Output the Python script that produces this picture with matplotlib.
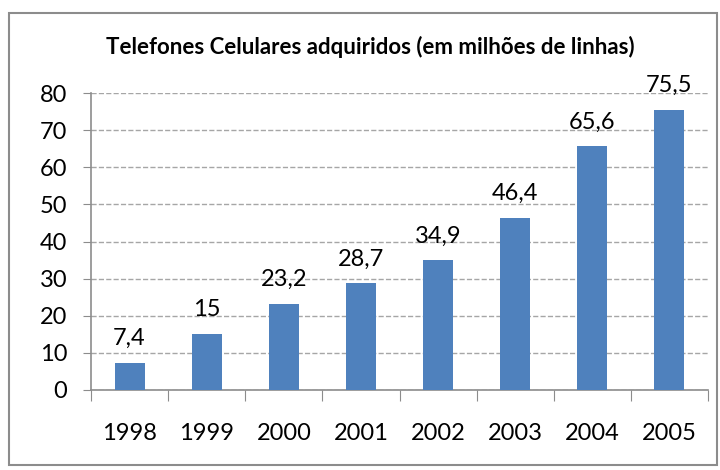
import numpy as np
import matplotlib.pyplot as plt
from matplotlib.patches import Rectangle

anos = ['1998', '1999', '2000', '2001', '2002', '2003', '2004', '2005']
linhas = [7.4, 15, 23.2, 28.7, 34.9, 46.4, 65.6, 75.5]
rotulos = ['7,4', '15', '23,2', '28,7', '34,9', '46,4', '65,6', '75,5']

plt.rcParams['font.family'] = ['Lato', 'DejaVu Sans']

fig = plt.figure(figsize=(7.2, 4.7), dpi=100)
fig.patches.append(Rectangle((9 / 720, 5 / 470), 708 / 720, 452 / 470, transform=fig.transFigure,
                             fill=False, edgecolor='#8c8c8c', linewidth=1.5))
ax = fig.add_axes([91 / 720, 1 - 390 / 470, 617 / 720, 297 / 470])

x = np.arange(len(anos))
ax.bar(x, linhas, width=0.39, color='#4f81bd', zorder=3)
for xi, v, r in zip(x, linhas, rotulos):
    ax.annotate(r, (xi, v), xytext=(0, 10), textcoords='offset points',
                ha='center', va='bottom', fontsize=17)

ax.set_xlim(-0.5, len(anos) - 0.5)
ax.set_ylim(0, 80)
ax.set_yticks(range(0, 81, 10))
ax.tick_params(axis='y', labelsize=17, length=6, color='#8c8c8c', pad=11)
ax.set_xticks(np.arange(-0.5, len(anos), 1))
ax.set_xticklabels([])
ax.set_xticks(x, minor=True)
ax.set_xticklabels(anos, minor=True, fontsize=17)
ax.tick_params(axis='x', which='major', length=8, color='#8c8c8c')
ax.tick_params(axis='x', which='minor', length=0, pad=24)
ax.grid(axis='y', linestyle='--', color='#a6a6a6', linewidth=1, zorder=0)
for s in ['top', 'right']:
    ax.spines[s].set_visible(False)
for s in ['left', 'bottom']:
    ax.spines[s].set_color('#8c8c8c')
    ax.spines[s].set_linewidth(1.2)

fig.text(370 / 720, 1 - 47 / 470, 'Telefones Celulares adquiridos (em milhões de linhas)',
         ha='center', va='center', fontsize=16, fontweight='bold')

fig.savefig('out.png', dpi=100)
